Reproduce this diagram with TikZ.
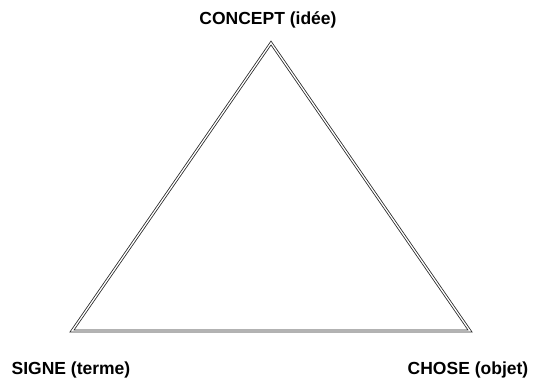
\documentclass[tikz,border=0pt]{standalone}
\usepackage{fontspec}
\setmainfont{Liberation Sans}
\usetikzlibrary{positioning}

\begin{document}
\begin{tikzpicture}[
    x=1pt,y=-1pt,
    thick,
    label/.style={font=\fontsize{17.5}{20}\selectfont\bfseries,inner sep=0pt},
    side/.style={draw=black!85,line width=0.8pt,double=white,double distance=1.3pt,line join=miter}
]
\useasboundingbox (0,0) rectangle (533,379);

% Corners of the triangle
\coordinate (top) at (271,43);
\coordinate (left) at (72,331);
\coordinate (right) at (470,331);

% Labels
\node[label] (concept) at (268,20) {CONCEPT (idée)};
\node[label] (signe) at (71,370) {SIGNE (terme)};
\node[label] (chose) at (468,370) {CHOSE (objet)};

% Triangle
\draw[side] (top) -- (right) -- (left) -- cycle;

\end{tikzpicture}
\end{document}
